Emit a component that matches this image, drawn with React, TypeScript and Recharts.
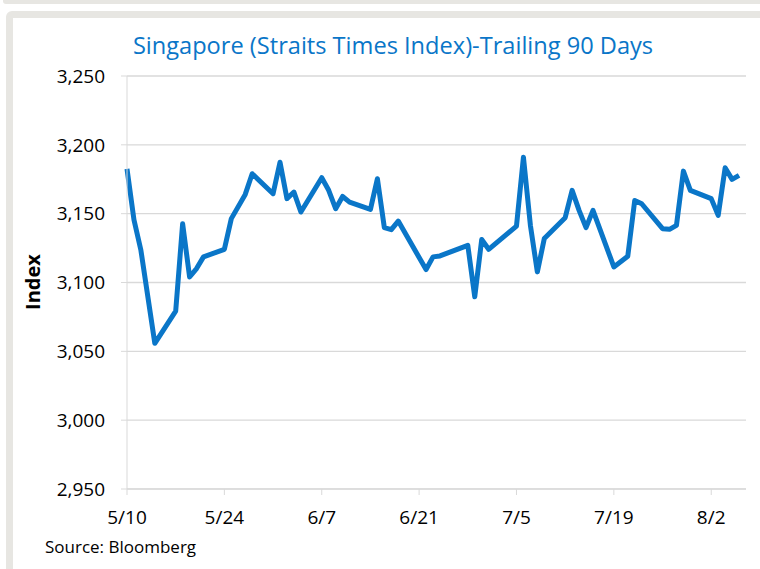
import { LineChart, Line, XAxis, YAxis, CartesianGrid } from 'recharts';

// Straits Times Index closes, trailing 90 days (2021)
const dates = [
  '5/10', '5/11', '5/12', '5/14', '5/17', '5/18', '5/19', '5/20', '5/21',
  '5/24', '5/25', '5/27', '5/28',
  '5/31', '6/1', '6/2', '6/3', '6/4',
  '6/7', '6/8', '6/9', '6/10', '6/11',
  '6/14', '6/15', '6/16', '6/17', '6/18',
  '6/22', '6/23', '6/24',
  '6/28', '6/29', '6/30', '7/1',
  '7/5', '7/6', '7/7', '7/8', '7/9',
  '7/12', '7/13', '7/14', '7/15', '7/16',
  '7/19', '7/21', '7/22', '7/23',
  '7/26', '7/27', '7/28', '7/29', '7/30',
  '8/2', '8/3', '8/4', '8/5', '8/6',
];

const closes = [
  3182.6, 3145.6, 3123.4, 3055.8, 3079.2, 3142.7, 3104, 3110.1, 3118.6,
  3124.1, 3146.4, 3164, 3179,
  3164.5, 3187.4, 3160.9, 3165.7, 3151.2,
  3176.1, 3167, 3153.6, 3162.5, 3158.4,
  3153.1, 3175.4, 3139.9, 3138.4, 3144.6,
  3109.4, 3118.6, 3119.3,
  3127, 3089.6, 3131.2, 3124.1,
  3141, 3191, 3141.5, 3107.7, 3131.9,
  3147.1, 3166.9, 3152.4, 3139.9, 3152.4,
  3111.3, 3119.1, 3159.6, 3157.2,
  3139.1, 3138.6, 3141.5, 3180.9, 3166.9,
  3160.9, 3148.8, 3183.3, 3174.9, 3177.8,
];

const xTickLabels = ['5/10', '5/24', '6/7', '6/21', '7/5', '7/19', '8/2'];
const yTicks = [2950, 3000, 3050, 3100, 3150, 3200, 3250];

const YEAR = 2021;
const toDay = (md: string) => {
  const [m, d] = md.split('/').map(Number);
  return Date.UTC(YEAR, m - 1, d) / 86400000;
};
const day0 = toDay(dates[0]);

const data = dates.map((d, i) => ({ day: toDay(d) - day0, label: d, value: closes[i] }));
const xTicks = xTickLabels.map(l => toDay(l) - day0);

const FRAME = '#e7e6e2';
const BLUE = '#0a76c8';
const GRID = '#d9d9d9';
const FONT = '"Open Sans", Lato, sans-serif';

export default function App() {
  return (
    <div style={{ position: 'absolute', left: 0, top: 0, width: 760, height: 569, overflow: 'hidden', background: '#fff', fontFamily: FONT }}>
      {/* frame pieces */}
      <div style={{ position: 'absolute', left: 3, top: 0, width: 800, height: 4, background: FRAME, borderBottomLeftRadius: 3 }} />
      <div style={{ position: 'absolute', left: 6, top: 11, width: 800, height: 620, border: `7px solid ${FRAME}`, borderTopLeftRadius: 6, boxSizing: 'border-box' }} />

      <div style={{ position: 'absolute', left: 0, width: 786, top: 34, textAlign: 'center', color: BLUE, fontSize: 23.6, lineHeight: '23px', whiteSpace: 'nowrap' }}>
        Singapore (Straits Times Index)-Trailing 90 Days
      </div>

      <div style={{ position: 'absolute', left: 33, top: 282, transform: 'translate(-50%, -50%) rotate(-90deg)', fontWeight: 'bold', fontSize: 20, lineHeight: '20px', color: '#000' }}>
        Index
      </div>

      <div style={{ position: 'absolute', left: 45, top: 539, fontSize: 17, lineHeight: '16.5px', color: '#000', whiteSpace: 'nowrap' }}>
        Source: Bloomberg
      </div>

      <div style={{ position: 'absolute', left: 0, top: 0 }}>
        <LineChart width={760} height={569} data={data} margin={{ top: 76, right: 14, bottom: 50, left: 0 }}>
          <CartesianGrid vertical={false} stroke={GRID} strokeWidth={1.3} />
          <XAxis
            dataKey="day"
            type="number"
            domain={[0, 89]}
            ticks={xTicks}
            tickFormatter={(v: number) => xTickLabels[xTicks.indexOf(v)] ?? ''}
            height={30}
            stroke={GRID}
            tickSize={6}
            tickMargin={16}
            tick={{ fill: '#000', fontSize: 19, fontFamily: FONT }}
            interval={0}
          />
          <YAxis
            type="number"
            domain={[2950, 3250]}
            ticks={yTicks}
            width={127}
            stroke={GRID}
            tickSize={6}
            tickMargin={16}
            tickFormatter={(v: number) => v.toLocaleString('en-US')}
            tick={{ fill: '#000', fontSize: 19, fontFamily: FONT }}
            interval={0}
          />
          <Line
            type="linear"
            dataKey="value"
            stroke={BLUE}
            strokeWidth={5}
            strokeLinejoin="round"
            dot={false}
            isAnimationActive={false}
          />
        </LineChart>
      </div>
    </div>
  );
}
